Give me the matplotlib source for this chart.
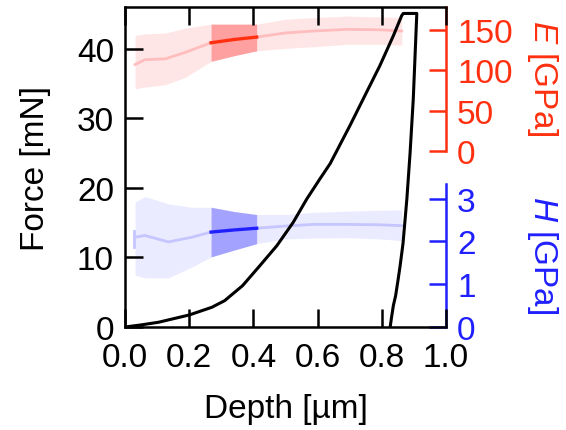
"""Nanoindentation load-depth curve with E and H profiles on split right axes."""

import matplotlib

matplotlib.use("Agg")
import matplotlib.pyplot as plt

# Load-displacement curve (loading, hold, unloading)
load_depth = [0.0, 0.05, 0.104, 0.2, 0.27, 0.31, 0.366, 0.42, 0.473, 0.524, 0.566,
              0.607, 0.639, 0.701, 0.742, 0.794, 0.836, 0.862, 0.867]
load_force = [0.0, 0.3, 0.68, 1.73, 2.83, 3.78, 5.94, 8.82, 11.7, 15.06, 18.4,
              21.3, 23.5, 29.0, 32.8, 37.6, 41.9, 44.8, 45.1]
unload_depth = [0.909, 0.898, 0.888, 0.878, 0.866, 0.857, 0.851, 0.843, 0.836, 0.830, 0.826]
unload_force = [45.1, 32.8, 25.0, 18.4, 12.0, 8.8, 6.9, 4.5, 3.1, 1.3, 0.0]

# Elastic modulus profile [GPa]
e_depth = [0.031, 0.062, 0.125, 0.187, 0.268, 0.34, 0.41, 0.498, 0.587, 0.69, 0.794, 0.862]
e_mean = [107, 113, 114, 122, 134, 138, 141, 146, 148.5, 150.5, 150, 148.5]
e_upper = [143, 145, 146, 152, 157, 157, 157, 163, 165, 167, 166, 165]
e_lower = [77, 79, 82, 91, 111, 118, 124, 127, 129, 132, 132, 131]

# Hardness profile [GPa]
h_depth = [0.031, 0.062, 0.135, 0.208, 0.268, 0.34, 0.41, 0.498, 0.587, 0.69, 0.794, 0.862]
h_mean = [2.10, 2.14, 1.99, 2.10, 2.22, 2.27, 2.31, 2.36, 2.40, 2.40, 2.39, 2.37]
h_upper = [2.92, 3.05, 2.88, 2.80, 2.80, 2.70, 2.63, 2.63, 2.68, 2.71, 2.73, 2.74]
h_lower = [1.21, 1.15, 1.15, 1.40, 1.64, 1.80, 1.95, 2.06, 2.08, 2.09, 2.06, 2.02]
h_first_depth = [0.028, 0.028]
h_first_range = [1.87, 2.25]

# highlighted averaging window (indices into the profile arrays)
win = slice(4, 7)

RED = "#ff3010"
BLUE = "#2020ff"

plt.rcParams.update({
    "font.family": ["Liberation Sans", "DejaVu Sans"],
    "font.size": 24,
    "mathtext.fontset": "custom",
    "mathtext.rm": "Liberation Sans",
    "mathtext.it": "Liberation Sans:italic",
    "axes.linewidth": 1.8,
})

fig = plt.figure(figsize=(5.66, 4.31), dpi=100)
ax = fig.add_axes([0.221, 0.239, 0.567, 0.742])
ax_e = ax.twinx()
ax_h = ax.twinx()

# main curve on top of the bands
ax.set_zorder(3)
ax.patch.set_visible(False)
ax.plot(load_depth + unload_depth, load_force + unload_force, color="black", lw=2.2,
        solid_joinstyle="round")

ax.set_xlim(0, 1.0)
ax.set_ylim(0, 46)
ax.set_xticks([0.0, 0.2, 0.4, 0.6, 0.8, 1.0])
ax.set_yticks([0, 10, 20, 30, 40])
ax.set_xticklabels(["0.0", "0.2", "0.4", "0.6", "0.8", "1.0"])
ax.tick_params(axis="x", direction="in", length=13, width=1.8, top=True, pad=11)
ax.tick_params(axis="y", direction="in", length=13, width=1.8, pad=8)
ax.spines["right"].set_visible(False)
ax.set_xlabel("Depth [µm]", labelpad=14)
ax.set_ylabel("Force [mN]")
ax.yaxis.set_label_coords(-0.23, 0.5)

# E profile
ax_e.fill_between(e_depth, e_lower, e_upper, color="#ffe6e6", lw=0)
ax_e.plot(e_depth, e_mean, color="#ffbdbd", lw=2)
ax_e.fill_between(e_depth[win], e_lower[win], e_upper[win], color="#ffa0a0", lw=0)
ax_e.plot(e_depth[win], e_mean[win], color=RED, lw=2.4)
ax_e.set_ylim(-218, 178)
ax_e.set_yticks([0, 50, 100, 150])

# H profile
ax_h.fill_between(h_depth, h_lower, h_upper, color="#ebebff", lw=0)
ax_h.plot(h_depth, h_mean, color="#c5c5ff", lw=2)
ax_h.plot(h_first_depth, h_first_range, color="#c5c5ff", lw=2)
ax_h.fill_between(h_depth[win], h_lower[win], h_upper[win], color="#a3a3ff", lw=0)
ax_h.plot(h_depth[win], h_mean[win], color=BLUE, lw=2.4)
ax_h.set_ylim(0, 7.48)
ax_h.set_yticks([0, 1, 2, 3])

for tw, col, top in ((ax_e, RED, 178), (ax_h, BLUE, 3.34)):
    for side in ("top", "bottom", "left"):
        tw.spines[side].set_visible(False)
    tw.spines["right"].set_color(col)
    tw.spines["right"].set_bounds(0, top)
    tw.tick_params(axis="y", direction="in", length=12, width=1.8, colors=col, pad=8)

ax.text(1.30, 0.78, "$E$ [GPa]", transform=ax.transAxes, rotation=270,
        ha="center", va="center", color=RED)
ax.text(1.30, 0.228, "$H$ [GPa]", transform=ax.transAxes, rotation=270,
        ha="center", va="center", color=BLUE)

fig.savefig("out.png", dpi=100)
